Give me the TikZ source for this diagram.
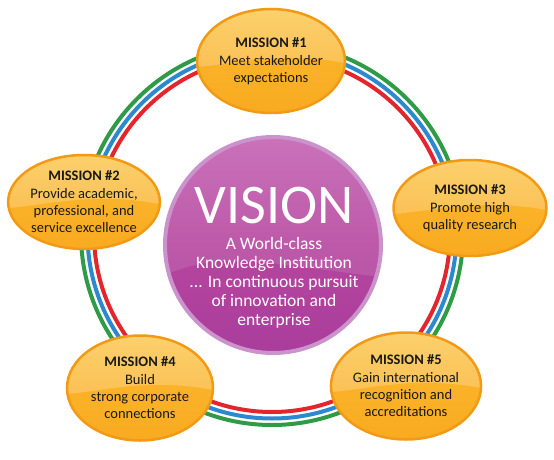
\documentclass[tikz,border=0pt]{standalone}
\usepackage{fontspec}
\setmainfont{Carlito}
\usetikzlibrary{calc,shapes.geometric}
\definecolor{ringgreen}{HTML}{2F9B46}
\definecolor{ringblue}{HTML}{2C88CF}
\definecolor{ringred}{HTML}{E3262E}
\definecolor{goldtop}{HTML}{FDD66A}
\definecolor{goldup}{HTML}{FCC443}
\definecolor{goldmid}{HTML}{FAB229}
\definecolor{goldlow}{HTML}{F8A91F}
\definecolor{goldbot}{HTML}{FABD45}
\definecolor{goldrim}{HTML}{F39A15}
\definecolor{plumtop}{HTML}{E0B2DA}
\definecolor{plumup}{HTML}{C462B3}
\definecolor{plummid}{HTML}{B6479F}
\definecolor{plumlow}{HTML}{AA3C9C}
\definecolor{plumbot}{HTML}{A877B8}
\definecolor{plumrim}{HTML}{CA93CB}
\pgfdeclareverticalshading{goldshade}{100bp}{color(0bp)=(goldbot); color(20bp)=(goldlow);
  color(50bp)=(goldmid); color(75bp)=(goldup); color(100bp)=(goldtop)}
\pgfdeclareverticalshading{plumshade}{100bp}{color(0bp)=(plumbot); color(25bp)=(plumlow);
  color(50bp)=(plummid); color(75bp)=(plumup); color(92bp)=(plumtop); color(100bp)=(plumtop)}
\tikzset{
  ringline/.style={line width=4pt},
  mission/.style={ellipse, draw=goldrim, line width=2.5pt, inner sep=0pt,
    shading=goldshade, align=center, text=black!90,
    font=\fontsize{14.5}{17}\selectfont,
    path picture={
      \fill[white, opacity=.22] (path picture bounding box.north west)
        -- ($(path picture bounding box.west)+(0,-6pt)$)
        .. controls ($(path picture bounding box.center)+(-30pt,-2pt)$)
        and ($(path picture bounding box.center)+(10pt,10pt)$)
        .. ($(path picture bounding box.east)+(0,-2pt)$)
        -- (path picture bounding box.north east) -- cycle;
    }},
  visionball/.style={circle, draw=plumrim, line width=4pt, minimum size=216pt,
    shading=plumshade,
    path picture={
      \fill[white, opacity=.10] (path picture bounding box.north west)
        -- ($(path picture bounding box.west)+(0,-30pt)$)
        .. controls ($(path picture bounding box.center)+(-50pt,-5pt)$)
        and ($(path picture bounding box.center)+(-10pt,-18pt)$)
        .. ($(path picture bounding box.east)+(0,-32pt)$)
        -- (path picture bounding box.north east) -- cycle;
    }},
  visiontext/.style={align=center, text=white, font=\fontsize{17.5}{19}\selectfont},
}
\begin{document}
\begin{tikzpicture}[x=1pt, y=-1pt]
  \useasboundingbox (0,0) rectangle (554,460);

  % ring behind the missions
  \coordinate (hub) at (272,234);
  \draw[ringline, ringgreen] (hub) circle (191pt);
  \draw[ringline, ringblue] (hub) circle (184.5pt);
  \draw[ringline, ringred] (hub) circle (178pt);

  % missions
  \node[mission, minimum width=148pt, minimum height=104pt] (m1) at (271,61)
    {\textbf{MISSION \#1}\\[1pt]Meet stakeholder\\expectations};
  \node[mission, minimum width=148pt, minimum height=94pt] (m2) at (84,202)
    {\textbf{MISSION \#2}\\[1pt]Provide academic,\\professional, and\\service excellence};
  \node[mission, minimum width=153pt, minimum height=96pt] (m3) at (470,208)
    {\textbf{MISSION \#3}\\[1pt]Promote high\\quality research};
  \node[mission, minimum width=146pt, minimum height=105pt] (m4) at (140,388)
    {\textbf{MISSION \#4}\\[1pt]Build\\strong corporate\\connections};
  \node[mission, minimum width=147pt, minimum height=107pt] (m5) at (406,386)
    {\textbf{MISSION \#5}\\[1pt]Gain international\\recognition and\\accreditations};

  % vision in the middle
  \node[visionball] (vision) at (273,245) {};
  \node[visiontext] (visionlabel) at (274,258)
    {{\fontsize{56}{56}\selectfont VISION}\\[7pt]A World-class\\Knowledge Institution\\%
     ... In continuous pursuit\\of innovation and\\enterprise};
\end{tikzpicture}
\end{document}
